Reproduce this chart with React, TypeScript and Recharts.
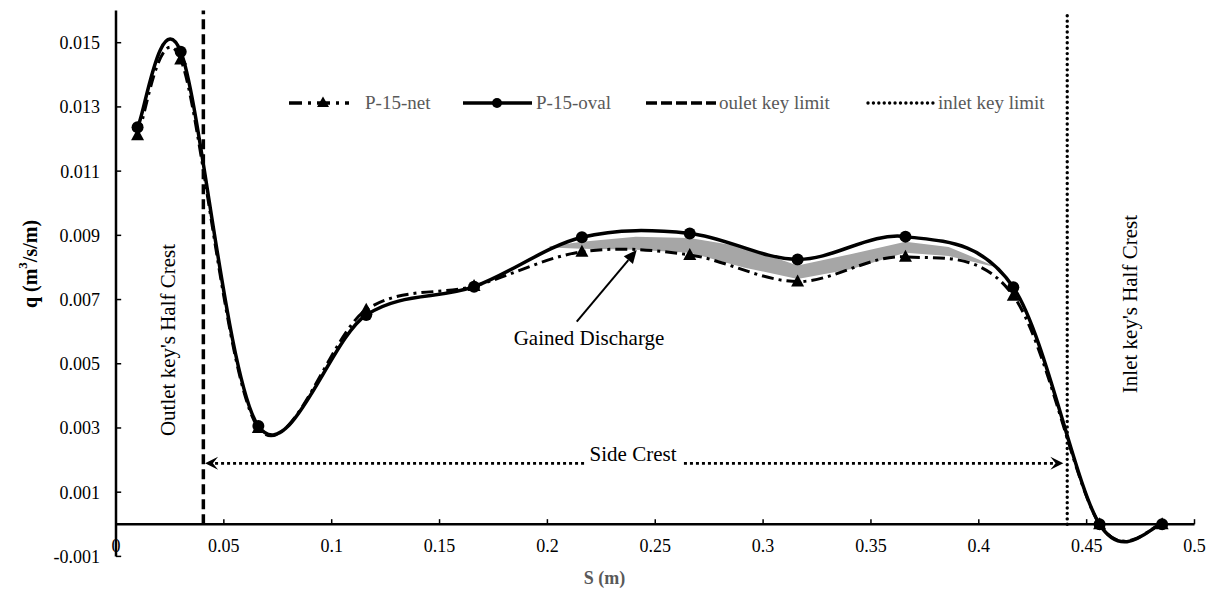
import React from 'react';
import { ComposedChart, Line, Area, XAxis, YAxis, ReferenceLine, ReferenceDot, Legend } from 'recharts';

// ---------- data ----------
const S_VALUES = [0.01, 0.03, 0.066, 0.116, 0.166, 0.216, 0.266, 0.316, 0.366, 0.416, 0.456, 0.485];
const NET_VALUES = [0.01212, 0.01448, 0.003, 0.00668, 0.00742, 0.00849, 0.00839, 0.00756, 0.00833, 0.00712, 0.0, 0.0];
const OVAL_VALUES = [0.01237, 0.01472, 0.00306, 0.00652, 0.0074, 0.00894, 0.00906, 0.00825, 0.00896, 0.00738, 0.0, 0.0];

const GAIN_S = [0.201, 0.216, 0.241, 0.266, 0.291, 0.316, 0.341, 0.366, 0.386, 0.406];
const GAIN_LOW = [0.00862, 0.00858, 0.00855, 0.00846, 0.008, 0.00764, 0.00795, 0.00846, 0.00836, 0.00804];
const GAIN_HIGH = [0.00866, 0.0088, 0.00896, 0.00892, 0.00864, 0.00806, 0.00842, 0.0088, 0.00864, 0.00808];

const X_TICKS = [0, 0.05, 0.1, 0.15, 0.2, 0.25, 0.3, 0.35, 0.4, 0.45, 0.5];
const X_TICK_LABELS = ['0', '0.05', '0.1', '0.15', '0.2', '0.25', '0.3', '0.35', '0.4', '0.45', '0.5'];
const Y_TICKS = [-0.001, 0.001, 0.003, 0.005, 0.007, 0.009, 0.011, 0.013, 0.015];
const Y_TICK_LABELS = ['-0.001', '0.001', '0.003', '0.005', '0.007', '0.009', '0.011', '0.013', '0.015'];
const X_DOMAIN = [0, 0.5];
const Y_DOMAIN = [-0.001, 0.016];

const OUTLET_LIMIT_S = 0.0405;
const INLET_LIMIT_S = 0.441;
const SIDE_CREST_Q = 0.0019;
const SIDE_CREST_LEFT = [0.217, 0.0413];
const SIDE_CREST_RIGHT = [0.2633, 0.4392];
const GAINED_ARROW_FROM = [0.2136, 0.00631];
const GAINED_ARROW_TO = [0.2414, 0.00854];

const LEGEND_ITEMS = ['P-15-net', 'P-15-oval', 'oulet key limit', 'inlet key limit'];

const MAIN_DATA = S_VALUES.map((s, i) => ({ s, net: NET_VALUES[i], oval: OVAL_VALUES[i] }));
const GAIN_DATA = GAIN_S.map((s, i) => ({ s, range: [GAIN_LOW[i], GAIN_HIGH[i]] }));

const FONT = '"Liberation Serif", "Times New Roman", serif';

// Excel-like smoothing (Catmull-Rom Bezier)
function excelCurve(context: any) {
  let pts: number[][] = [];
  let line = NaN;
  return {
    areaStart() { line = 0; },
    areaEnd() { line = NaN; },
    lineStart() { pts = []; },
    point(x: number, y: number) { pts.push([+x, +y]); },
    lineEnd() {
      const n = pts.length;
      if (n) {
        if (line) context.lineTo(pts[0][0], pts[0][1]);
        else context.moveTo(pts[0][0], pts[0][1]);
        for (let i = 0; i < n - 1; i++) {
          const p0 = pts[i === 0 ? 0 : i - 1];
          const p1 = pts[i];
          const p2 = pts[i + 1];
          const p3 = pts[i + 2 < n ? i + 2 : n - 1];
          context.bezierCurveTo(
            p1[0] + (p2[0] - p0[0]) / 6, p1[1] + (p2[1] - p0[1]) / 6,
            p2[0] - (p3[0] - p1[0]) / 6, p2[1] - (p3[1] - p1[1]) / 6,
            p2[0], p2[1]
          );
        }
      }
      if (line || (line !== 0 && n === 1)) context.closePath();
      line = 1 - line;
    },
  };
}

const triangleDot = (props: any) => {
  const { cx, cy, index } = props;
  if (cx == null || cy == null) return <g key={`t${index}`} />;
  return <path key={`t${index}`} d={`M${cx},${cy - 7}L${cx + 6.5},${cy + 5}L${cx - 6.5},${cy + 5}Z`} fill="#000" />;
};

const makeArrow = (kind: string, head: number, halfW: number, strokeW: number, dash?: string) => (p: any) => {
  const { x1, y1, x2, y2 } = p;
  const dx = x2 - x1, dy = y2 - y1;
  const len = Math.hypot(dx, dy) || 1;
  const ux = dx / len, uy = dy / len;
  const px = -uy, py = ux;
  const bx = x2 - ux * head, by = y2 - uy * head;
  const notch = kind === 'stealth' ? head * 0.4 : 0;
  const nx = bx + ux * notch, ny = by + uy * notch;
  const d = `M${x2},${y2}L${bx + px * halfW},${by + py * halfW}L${nx},${ny}L${bx - px * halfW},${by - py * halfW}Z`;
  return (
    <g>
      <line x1={x1} y1={y1} x2={nx} y2={ny} stroke="#000" strokeWidth={strokeW} strokeDasharray={dash} />
      <path d={d} fill="#000" />
    </g>
  );
};

const roundDotLine = (p: any) => (
  <line x1={p.x1} y1={p.y1} x2={p.x2} y2={p.y2} stroke="#000" strokeWidth={3.4} strokeDasharray="0.01 5.4" strokeLinecap="round" />
);

const textLabel = (text: string, size: number, rotate = false) => (props: any) => {
  const vb = props.viewBox || {};
  const cx = (vb.x || 0) + (vb.width || 0) / 2;
  const cy = (vb.y || 0) + (vb.height || 0) / 2;
  return (
    <text
      x={cx}
      y={cy}
      textAnchor="middle"
      dominantBaseline="central"
      transform={rotate ? `rotate(-90 ${cx} ${cy})` : undefined}
      style={{ fontFamily: FONT, fontSize: size, fill: '#000' }}
    >
      {text}
    </text>
  );
};

const xTick = (props: any) => {
  const { x, y, payload, index } = props;
  const i = X_TICKS.indexOf(payload.value);
  return (
    <text key={`xt${index}`} x={x} y={y - 4.5} textAnchor="middle" style={{ fontFamily: FONT, fontSize: 18, fill: '#000' }}>
      {i >= 0 ? X_TICK_LABELS[i] : String(payload.value)}
    </text>
  );
};

const yTickFormatter = (v: number) => {
  const i = Y_TICKS.findIndex((t) => Math.abs(t - v) < 1e-9);
  return i >= 0 ? Y_TICK_LABELS[i] : String(v);
};

const xTitle = (props: any) => {
  const vb = props.viewBox || {};
  const cx = vb.x + vb.width * 0.453;
  return (
    <text x={cx} y={578} textAnchor="middle" dominantBaseline="central" style={{ fontFamily: FONT, fontSize: 18, fontWeight: 700, fill: '#595959' }}>
      S (m)
    </text>
  );
};

const yTitle = () => {
  const cx = 30;
  const cy = 264;
  return (
    <text x={cx} y={cy} textAnchor="middle" dominantBaseline="central" transform={`rotate(-90 ${cx} ${cy})`} style={{ fontFamily: FONT, fontSize: 20, fontWeight: 700, fill: '#000' }}>
      q (m<tspan baselineShift="super" fontSize={13}>3</tspan>/s/m)
    </text>
  );
};

const LEGEND_LEFT = [289, 463, 646, 865];

const LegendSample = ({ i }: { i: number }) => {
  if (i === 0)
    return (
      <svg width={72} height={20} style={{ display: 'block' }}>
        <line x1={0} y1={10} x2={60} y2={10} stroke="#000" strokeWidth={3.5} strokeDasharray="13 6 3 6" />
        <path d="M34,3.5L40,14L28,14Z" fill="#000" />
      </svg>
    );
  if (i === 1)
    return (
      <svg width={72} height={20} style={{ display: 'block' }}>
        <line x1={0} y1={10} x2={69} y2={10} stroke="#000" strokeWidth={3.5} />
        <circle cx={34} cy={10} r={5} fill="#000" />
      </svg>
    );
  if (i === 2)
    return (
      <svg width={72} height={20} style={{ display: 'block' }}>
        <line x1={0} y1={10} x2={70} y2={10} stroke="#000" strokeWidth={3.5} strokeDasharray="11 4" />
      </svg>
    );
  return (
    <svg width={72} height={20} style={{ display: 'block' }}>
      <line x1={3} y1={10} x2={68} y2={10} stroke="#000" strokeWidth={3.4} strokeDasharray="0.01 5.4" strokeLinecap="round" />
    </svg>
  );
};

const legendContent = () => (
  <div style={{ position: 'relative', width: 1211, height: 24 }}>
    {LEGEND_ITEMS.map((name, i) => (
      <div key={name} style={{ position: 'absolute', left: LEGEND_LEFT[i], top: 0, height: 24, display: 'flex', alignItems: 'center' }}>
        <LegendSample i={i} />
        <span style={{ fontFamily: FONT, fontSize: 19, color: '#595959', marginLeft: i === 0 ? 4 : 1, whiteSpace: 'nowrap' }}>{name}</span>
      </div>
    ))}
  </div>
);

export default function App() {
  return (
    <div style={{ position: 'absolute', left: 0, top: 0, width: 1211, height: 590, background: '#fff' }}>
      <ComposedChart width={1211} height={590} margin={{ top: 10.6, right: 16.5, bottom: 0, left: 0 }}>
        <XAxis
          type="number"
          dataKey="s"
          domain={X_DOMAIN}
          ticks={X_TICKS}
          interval={0}
          axisLine={false}
          tickLine={false}
          tickSize={0}
          tickMargin={0}
          height={33.6}
          tick={xTick}
          allowDataOverflow
          label={{ content: xTitle }}
        />
        <YAxis
          type="number"
          domain={Y_DOMAIN}
          ticks={Y_TICKS}
          interval={0}
          width={116}
          axisLine={{ stroke: '#000', strokeWidth: 2.5 }}
          tickLine={false}
          tickSize={6}
          tickMargin={10}
          tickFormatter={yTickFormatter}
          tick={{ fontFamily: FONT, fontSize: 18, fill: '#000' }}
          allowDataOverflow
          label={{ content: yTitle }}
        />
        <Legend layout="horizontal" verticalAlign="middle" align="center" wrapperStyle={{ top: 91, left: 0, width: 1211 }} content={legendContent} />

        <Area data={GAIN_DATA} dataKey="range" type="linear" fill="#a6a6a6" fillOpacity={1} stroke="none" dot={false} activeDot={false} isAnimationActive={false} />

        <ReferenceLine y={0} stroke="#000" strokeWidth={2.5} />
        {X_TICKS.slice(1).map((v) => (
          <ReferenceLine key={`xtm${v}`} segment={[{ x: v, y: 0 }, { x: v, y: 0.00016 }]} stroke="#000" strokeWidth={1.5} />
        ))}
        {Y_TICKS.map((v) => (
          <ReferenceLine key={`ytm${v}`} segment={[{ x: 0, y: v }, { x: 0.0024, y: v }]} stroke="#000" strokeWidth={1.5} />
        ))}

        <Line data={MAIN_DATA} dataKey="net" name="P-15-net" type={excelCurve as any} stroke="#000" strokeWidth={3} strokeDasharray="12 5 3 5" dot={triangleDot} activeDot={false} isAnimationActive={false} />
        <Line data={MAIN_DATA} dataKey="oval" name="P-15-oval" type={excelCurve as any} stroke="#000" strokeWidth={3.5} dot={{ r: 6, fill: '#000', stroke: 'none' }} activeDot={false} isAnimationActive={false} />

        <ReferenceLine segment={[{ x: OUTLET_LIMIT_S, y: 0 }, { x: OUTLET_LIMIT_S, y: Y_DOMAIN[1] }]} stroke="#000" strokeWidth={3.5} strokeDasharray="10 5" />
        <ReferenceLine segment={[{ x: INLET_LIMIT_S, y: 0 }, { x: INLET_LIMIT_S, y: Y_DOMAIN[1] }]} shape={roundDotLine} />

        <ReferenceLine segment={[{ x: SIDE_CREST_LEFT[0], y: SIDE_CREST_Q }, { x: SIDE_CREST_LEFT[1], y: SIDE_CREST_Q }]} shape={makeArrow('stealth', 13, 6.5, 2.8, '3 3')} />
        <ReferenceLine segment={[{ x: SIDE_CREST_RIGHT[0], y: SIDE_CREST_Q }, { x: SIDE_CREST_RIGHT[1], y: SIDE_CREST_Q }]} shape={makeArrow('stealth', 13, 6.5, 2.8, '3 3')} />
        <ReferenceLine segment={[{ x: GAINED_ARROW_FROM[0], y: GAINED_ARROW_FROM[1] }, { x: GAINED_ARROW_TO[0], y: GAINED_ARROW_TO[1] }]} shape={makeArrow('triangle', 13, 6, 2)} />

        <ReferenceDot x={0.2397} y={0.00219} r={0} fill="none" stroke="none" label={{ content: textLabel('Side Crest', 21) }} />
        <ReferenceDot x={0.2193} y={0.00581} r={0} fill="none" stroke="none" label={{ content: textLabel('Gained Discharge', 21) }} />
        <ReferenceDot x={0.0241} y={0.00574} r={0} fill="none" stroke="none" label={{ content: textLabel("Outlet key's Half Crest", 21, true) }} />
        <ReferenceDot x={0.4701} y={0.00686} r={0} fill="none" stroke="none" label={{ content: textLabel("Inlet key's Half Crest", 21, true) }} />
      </ComposedChart>
    </div>
  );
}
